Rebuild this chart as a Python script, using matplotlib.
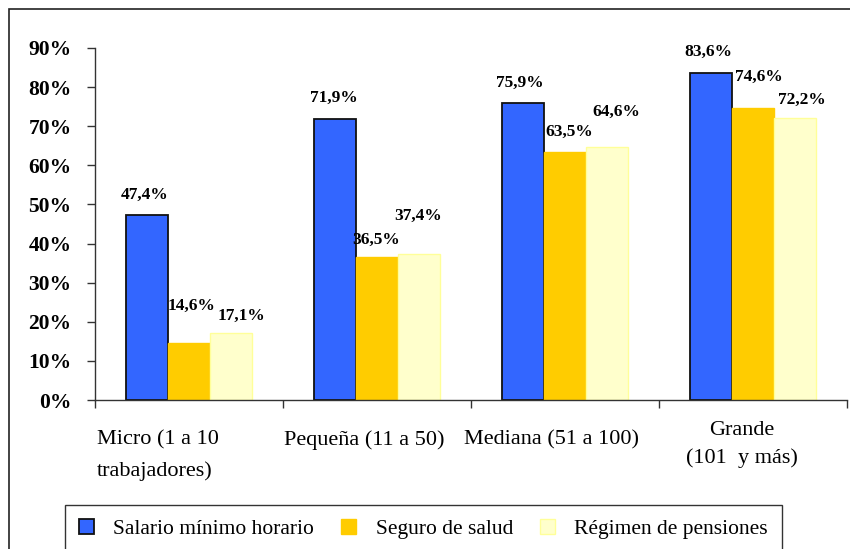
import matplotlib
matplotlib.use("Agg")
import matplotlib.pyplot as plt
from matplotlib.patches import Rectangle
import numpy as np

plt.rcParams["font.family"] = ["Liberation Serif", "DejaVu Serif"]

# datos
categorias = ["Micro (1 a 10\ntrabajadores)", "Pequeña (11 a 50)",
              "Mediana (51 a 100)", "Grande\n(101  y más)"]
series = ["Salario mínimo horario", "Seguro de salud", "Régimen de pensiones"]
salario = [47.4, 71.9, 75.9, 83.6]
seguro = [14.6, 36.5, 63.5, 74.6]
pensiones = [17.1, 37.4, 64.6, 72.2]

colores = ["#3366FF", "#FFCC00", "#FFFFCC"]
bordes = ["#111111", "#FFCC00", "#FFFF99"]

# desplazamiento de las etiquetas (pixeles, dx, dy) tal como en el original
offsets = [
    [(-3, 20), (-1, 21), (-3, 20), (-3, 21)],
    [(3, 37), (-1, 17), (4, 20), (6, 31)],
    [(11, 17), (-1, 38), (10, 35), (7, 18)],
]

W, H = 850, 549
fig = plt.figure(figsize=(W / 100, H / 100), dpi=100)
fig.patches.append(Rectangle((9 / W, -0.2), 2, 1.2 - 9 / H, transform=fig.transFigure,
                             fill=False, edgecolor="#222222", linewidth=1.2))

ax = fig.add_axes([95 / W, 1 - 400 / H, (847 - 95) / W, 352 / H])
x = np.arange(len(categorias))
w = 0.222
datos = [salario, seguro, pensiones]
for i, vals in enumerate(datos):
    bars = ax.bar(x + (i - 1) * w, np.array(vals) / 100, width=w, color=colores[i],
                  edgecolor=bordes[i], linewidth=1.3 if i == 0 else 1.0, label=series[i],
                  zorder=2)
    for j, b in enumerate(bars):
        dx, dy = offsets[i][j]
        ax.annotate(f"{vals[j]:.1f}%".replace(".", ","),
                    (b.get_x() + b.get_width() / 2, b.get_height()),
                    xytext=(dx, dy), textcoords="offset pixels",
                    ha="center", va="center", fontsize=12.5, fontweight="bold")

ax.set_xlim(-0.5, 3.5)
ax.set_ylim(0, 0.9)
ax.set_yticks(np.arange(0, 0.91, 0.1))
ax.set_yticklabels([f"{int(round(v * 100))}%" for v in np.arange(0, 0.91, 0.1)],
                   fontsize=15.5, fontweight="bold")
ax.set_xticks(np.arange(-0.5, 3.6, 1))
ax.set_xticklabels([])
ax.tick_params(axis="y", length=6, width=1, pad=11, color="#333333")
ax.tick_params(axis="x", length=6, width=1, color="#333333")
for s in ["top", "right"]:
    ax.spines[s].set_visible(False)
for s in ["left", "bottom"]:
    ax.spines[s].set_color("#333333")
    ax.spines[s].set_linewidth(1.0)

# etiquetas de categoria
trans = ax.get_xaxis_transform()
ax.text(-0.49, -0.085, categorias[0], transform=trans, ha="left", va="top",
        fontsize=16, linespacing=1.8)
ax.text(0.93, -0.085, categorias[1], transform=trans, ha="center", va="top", fontsize=16)
ax.text(1.93, -0.085, categorias[2], transform=trans, ha="center", va="top", fontsize=16)
ax.text(2.94, -0.06, categorias[3], transform=trans, ha="center", va="top",
        fontsize=16, linespacing=1.55, multialignment="center")

leg = fig.legend(loc="upper left", bbox_to_anchor=(65 / W, 1 - 505 / H), ncol=3,
                 fontsize=15.5, frameon=True, fancybox=False, edgecolor="black",
                 borderaxespad=0, borderpad=0.65, handlelength=0.7, handleheight=0.7,
                 handletextpad=0.9, columnspacing=1.25)
leg.get_frame().set_linewidth(1.0)

fig.savefig("out.png", dpi=100)
